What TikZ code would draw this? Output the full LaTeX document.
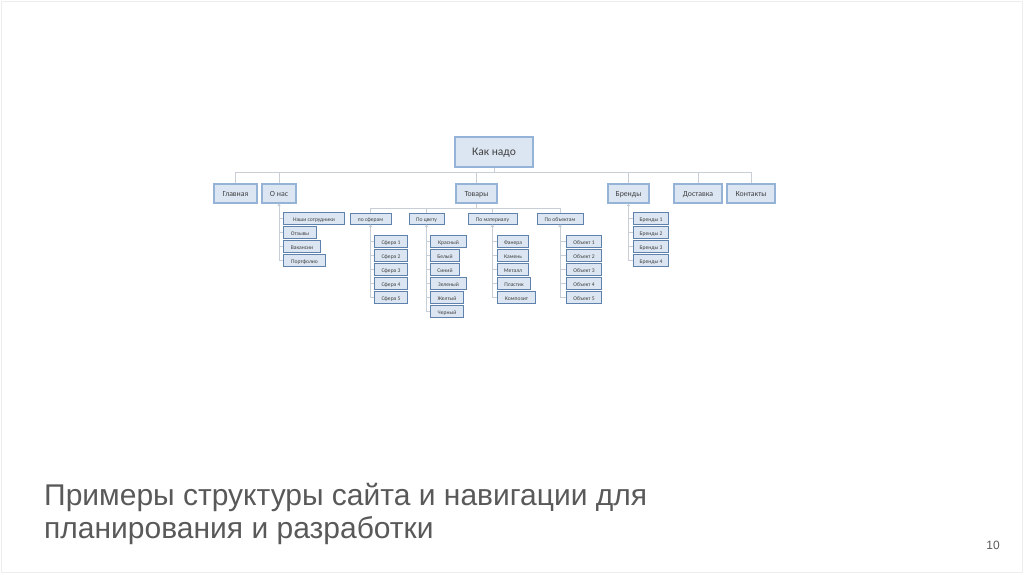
\documentclass[tikz,border=0pt]{standalone}
\usepackage{fontspec}
\setmainfont{Liberation Sans}
\newfontfamily\boxfont{Carlito}
\usetikzlibrary{arrows.meta}
\definecolor{boxfill}{HTML}{DCE6F2}
\definecolor{topedge}{HTML}{95B3D7}
\definecolor{subedge}{HTML}{5F82AD}
\definecolor{linkc}{HTML}{C8CED6}
\definecolor{txt}{HTML}{404040}
\definecolor{titlec}{HTML}{595959}
\tikzset{
  topbox/.style={draw=topedge, line width=1.3pt, fill=boxfill, inner sep=0pt, minimum height=19pt, text=txt, text height=1.5ex, text depth=0.3ex, font=\boxfont\fontsize{7.8}{9}\selectfont},
  rootbox/.style={topbox, line width=1.6pt, minimum height=30pt, minimum width=78pt, font=\boxfont\fontsize{11.5}{13}\selectfont},
  catbox/.style={draw=subedge, line width=1pt, fill=boxfill, inner sep=0pt, minimum height=11pt, text=txt, text height=1.5ex, text depth=0.3ex, font=\boxfont\fontsize{5.6}{6}\selectfont},
  leafbox/.style={catbox, minimum height=12pt, anchor=west},
  link/.style={draw=linkc, line width=0.9pt},
  sublink/.style={link, {Triangle[width=3.5pt,length=2.5pt]}-},
}
\begin{document}
\begin{tikzpicture}[x=1pt,y=-1pt]
\useasboundingbox (0,0) rectangle (1024,574);
\draw[draw=black!7, line width=1pt] (1.5,1.5) rectangle (1022.5,572.5);
% root and top level
\node[rootbox] (root) at (494,152) {Как надо};
\node[topbox, minimum width=43pt] (glav) at (235.5,193.5) {Главная};
\node[topbox, minimum width=34pt] (onas) at (279,193.5) {О нас};
\node[topbox, minimum width=41pt] (tov) at (476.5,193.5) {Товары};
\node[topbox, minimum width=41pt] (brend) at (628.5,193.5) {Бренды};
\node[topbox, minimum width=48pt] (dost) at (698,193.5) {Доставка};
\node[topbox, minimum width=48pt] (kont) at (751,193.5) {Контакты};
\foreach \c in {glav,onas,tov,brend,dost,kont}
  \draw[link] (root.south) -- ++(0,5) -| (\c.north);
% categories
\node[catbox, minimum width=41pt] (sfer) at (370.5,218.5) {по сферам};
\node[catbox, minimum width=35pt] (cvet) at (426.5,218.5) {По цвету};
\node[catbox, minimum width=49pt] (mat) at (492.5,218.5) {По материалу};
\node[catbox, minimum width=46pt] (obj) at (560,218.5) {По объектам};
\foreach \c in {sfer,cvet,mat,obj}
  \draw[link] (tov.south) -- ++(0,5) -| (\c.north);
% О нас
\node[leafbox, minimum width=61pt] (on1) at (283,218) {Наши сотрудники};
\node[leafbox, minimum width=33pt] (on2) at (283,232) {Отзывы};
\node[leafbox, minimum width=37pt] (on3) at (283,246) {Вакансии};
\node[leafbox, minimum width=42pt] (on4) at (283,260) {Портфолио};
% Сферы
\foreach \i in {1,...,5}
  \node[leafbox, minimum width=33pt] (sf\i) at (374,227+14*\i) {Сфера \i};
% Цвет
\node[leafbox, minimum width=36pt] (cv1) at (430,241) {Красный};
\node[leafbox, minimum width=29pt] (cv2) at (430,255) {Белый};
\node[leafbox, minimum width=29pt] (cv3) at (430,269) {Синий};
\node[leafbox, minimum width=36pt] (cv4) at (430,283) {Зеленый};
\node[leafbox, minimum width=33pt] (cv5) at (430,297) {Желтый};
\node[leafbox, minimum width=33pt] (cv6) at (430,311) {Черный};
% Материал
\node[leafbox, minimum width=31pt] (mt1) at (497,241) {Фанера};
\node[leafbox, minimum width=31pt] (mt2) at (497,255) {Камень};
\node[leafbox, minimum width=31pt] (mt3) at (497,269) {Металл};
\node[leafbox, minimum width=33pt] (mt4) at (497,283) {Пластик};
\node[leafbox, minimum width=38pt] (mt5) at (497,297) {Композит};
% Объекты
\foreach \i in {1,...,5}
  \node[leafbox, minimum width=35pt] (ob\i) at (566,227+14*\i) {Объект \i};
% Бренды
\foreach \i in {1,...,4}
  \node[leafbox, minimum width=35pt] (br\i) at (633,204+14*\i) {Бренды \i};
% child connectors
\draw[sublink] (onas.south) |- (on4.west);
\foreach \i in {1,2,3} \draw[link] (onas.south) |- (on\i.west);
\draw[sublink] (sfer.south) |- (sf5.west);
\foreach \i in {1,...,4} \draw[link] (sfer.south) |- (sf\i.west);
\draw[sublink] (cvet.south) |- (cv6.west);
\foreach \i in {1,...,5} \draw[link] (cvet.south) |- (cv\i.west);
\draw[sublink] (mat.south) |- (mt5.west);
\foreach \i in {1,...,4} \draw[link] (mat.south) |- (mt\i.west);
\draw[sublink] (obj.south) |- (ob5.west);
\foreach \i in {1,...,4} \draw[link] (obj.south) |- (ob\i.west);
\draw[sublink] (brend.south) |- (br4.west);
\foreach \i in {1,2,3} \draw[link] (brend.south) |- (br\i.west);
% title
\node[anchor=base west, inner sep=0pt, text=titlec, font=\fontsize{30}{34}\selectfont] (t1) at (44,505) {Примеры структуры сайта и навигации для};
\node[anchor=base west, inner sep=0pt, text=titlec, font=\fontsize{30}{34}\selectfont] (t2) at (44,538) {планирования и разработки};
\node[anchor=base, inner sep=0pt, text=titlec, font=\fontsize{12}{14}\selectfont] (pg) at (993,549) {10};
\end{tikzpicture}
\end{document}
